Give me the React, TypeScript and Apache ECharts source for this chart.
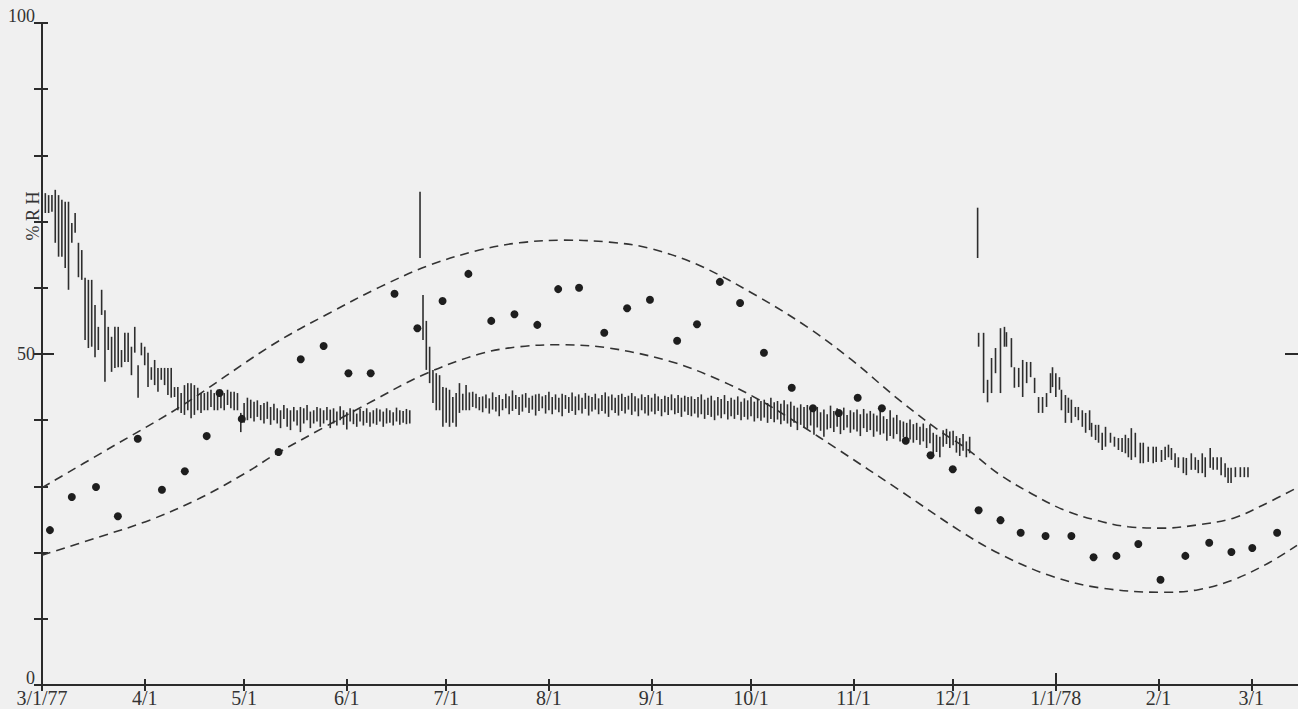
import React, { useEffect, useRef } from "react";
import * as echarts from "echarts";

// ---- axis ticks (days after 3/1/77) ----
const monthDays = [0, 31, 61, 92, 122, 153, 184, 214, 245, 275, 306, 337, 365];
const monthLabels = ["3/1/77", "4/1", "5/1", "6/1", "7/1", "8/1", "9/1", "10/1", "11/1", "12/1", "1/1/78", "2/1", "3/1"];
const yLabelValues = [0, 50, 100];

// ---- weekly outdoor points ----
const dotDays = [2.4, 9.0, 16.3, 22.9, 28.9, 36.2, 43.1, 49.7, 53.6, 60.3, 71.4, 78.1, 85.0, 92.5, 99.2, 106.4, 113.3, 120.9, 128.7, 135.6, 142.6, 149.5, 155.8, 162.1, 169.7, 176.6, 183.5, 191.7, 197.7, 204.6, 210.7, 217.9, 226.3, 232.7, 240.5, 246.2, 253.5, 260.7, 268.2, 274.9, 282.7, 289.3, 295.4, 302.9, 310.7, 317.4, 324.3, 330.9, 337.6, 345.1, 352.3, 359.0, 365.3, 372.8];
const dotRH = [23.4, 28.4, 29.9, 25.5, 37.2, 29.5, 32.3, 37.6, 44.1, 40.2, 35.2, 49.2, 51.2, 47.1, 47.1, 59.1, 53.9, 58.0, 62.1, 55.0, 56.0, 54.4, 59.8, 60.0, 53.2, 56.9, 58.2, 52.0, 54.5, 60.9, 57.7, 50.2, 44.9, 41.8, 41.1, 43.4, 41.8, 36.9, 34.7, 32.6, 26.4, 24.9, 23.0, 22.5, 22.5, 19.3, 19.5, 21.3, 15.9, 19.5, 21.5, 20.1, 20.7, 23.0];

// ---- envelope curves ----
const upperDays = [0, 20.5, 41.6, 69.6, 86.8, 101.9, 116.9, 132, 144.1, 157.6, 171.2, 183.2, 198.3, 216.4, 231.5, 244.4, 258.6, 270.6, 278.8, 288.7, 298.7, 308.6, 318.9, 327.9, 338.5, 349, 359.6, 368.6, 378.8];
const upperRH = [29.8, 35.8, 42.0, 51.4, 56.2, 60.1, 63.4, 65.7, 66.8, 67.2, 66.9, 66.0, 63.4, 58.6, 53.9, 49.1, 43.1, 38.5, 35.8, 31.9, 28.9, 26.4, 24.8, 23.9, 23.7, 24.2, 25.2, 27.2, 29.8];
const lowerDays = [0, 17.5, 32.5, 47.6, 62.7, 69.6, 84.7, 99.8, 114.8, 132, 144.1, 156.1, 171.2, 190.2, 204.3, 216.4, 228.5, 240.5, 258.6, 276.7, 288.7, 303.8, 318.9, 338.5, 349, 359.6, 370.1, 378.8];
const lowerRH = [19.6, 22.4, 24.9, 28.2, 32.4, 34.6, 38.8, 42.9, 46.8, 50.0, 51.1, 51.4, 50.9, 48.8, 46.1, 43.1, 39.4, 35.5, 29.5, 23.4, 19.9, 16.6, 14.7, 14.0, 14.4, 15.9, 18.4, 21.1];

// ---- daily range bars, segment A (from day 0) ----
const segAStart = 0;
const segALow = [70.2, 71.3, 71.3, 71.5, 66.8, 64.7, 64.7, 63.0, 59.7, 66.8, 68.3, 61.6, 61.2, 52.1, 50.9, 51.1, 49.5, 50.6, 55.9, 45.8, 50.6, 47.3, 47.9, 48.0, 48.0, 48.8, 48.8, 46.8, 50.2, 43.4, 49.8, 48.3, 45.0, 46.1, 45.3, 44.3, 46.1, 45.3, 43.8, 43.4, 43.5, 41.5, 41.1, 40.8, 41.5, 40.3, 40.8, 41.5, 41.1, 41.5, 41.5, 42.0, 41.5, 41.5, 41.8, 41.5, 42.3, 41.8, 41.5, 41.5, 38.2, 39.6, 40.0, 40.3, 39.8, 40.5, 40.0, 39.5, 40.2, 39.3, 40.0, 39.5, 38.8, 40.2, 39.0, 38.5, 39.8, 39.2, 38.2, 39.5, 40.0, 38.8, 39.5, 39.8, 39.0, 39.5, 40.0, 38.8, 39.5, 39.2, 40.0, 39.3, 38.6, 39.8, 39.4, 39.0, 39.8, 39.2, 39.6, 39.0, 39.5, 39.3, 39.8, 39.0, 39.5, 39.6, 39.2, 39.8, 39.3, 39.6, 39.4, 39.5];
const segAHigh = [75.2, 74.3, 74.0, 74.0, 74.8, 74.0, 73.3, 73.0, 73.0, 69.8, 71.3, 66.8, 65.7, 61.5, 61.2, 61.2, 57.4, 54.1, 59.7, 56.6, 54.1, 52.6, 54.1, 54.1, 50.6, 53.2, 53.2, 51.1, 54.1, 48.3, 51.7, 51.1, 50.2, 48.0, 49.1, 47.9, 47.9, 47.9, 47.9, 47.9, 45.0, 45.0, 44.1, 45.3, 45.6, 45.6, 45.3, 44.9, 44.1, 44.1, 44.3, 44.6, 44.1, 44.6, 44.6, 44.1, 44.6, 44.3, 44.3, 44.1, 41.1, 42.6, 43.4, 43.1, 42.8, 43.0, 42.3, 42.6, 42.8, 42.0, 42.5, 41.8, 41.5, 42.3, 41.8, 41.5, 42.0, 41.5, 42.0, 41.8, 42.3, 41.3, 41.5, 42.0, 41.8, 41.5, 42.0, 41.6, 41.8, 41.3, 42.1, 41.5, 41.2, 41.8, 41.6, 41.0, 41.7, 41.4, 41.8, 41.2, 41.5, 41.8, 41.6, 41.3, 41.8, 41.5, 41.2, 41.9, 41.5, 41.4, 41.7, 41.5];

// ---- segment B (from day 115) ----
const segBStart = 115;
const segBLow = [52.1, 47.6, 45.6, 42.6, 41.5, 41.5, 39.0, 39.6, 39.0, 39.6, 39.0, 41.1, 41.5, 41.5, 41.5, 42.0, 41.8, 41.5,
  41.2, 41.8, 41.0, 41.6, 41.3, 40.6, 41.5, 41.8, 40.9, 41.4, 41.7, 40.8, 41.3, 41.9, 41.1, 41.6, 40.7, 41.4, 41.8, 41.0, 41.5, 40.9, 41.6, 41.2, 40.6, 41.7, 41.1, 41.4, 40.8, 41.5, 41.0, 41.7, 40.7, 41.3, 41.6, 40.9, 41.4, 41.0, 40.5, 41.5, 41.1, 40.7, 41.4, 41.0, 41.6, 40.8, 41.3, 40.6, 41.5, 41.0, 40.7, 41.3, 40.9, 41.4, 40.6, 41.2, 40.8, 41.5, 40.9, 41.1, 40.5, 41.3, 40.8,
  40.6, 41.0, 40.4, 40.9, 40.2, 40.8, 40.5, 40.0, 40.7, 40.3, 40.9, 40.1, 40.6, 40.2, 40.8, 40.0, 40.5, 40.1, 40.6, 39.8, 40.3, 39.9, 40.4, 39.6, 40.2, 39.7, 40.1, 39.4, 39.9, 39.5, 39.0, 39.6, 38.5, 39.3, 38.9,
  38.7, 39.2, 37.8, 38.9, 38.4, 37.5, 38.6, 38.8, 38.2, 39.0, 37.9, 38.5, 38.9, 38.1, 38.6, 38.3, 37.6, 38.8, 38.2, 38.5,
  37.5, 38.3, 37.8, 38.0, 36.9, 37.6, 37.2, 37.9, 36.8, 37.4, 36.6, 37.1,
  36.6, 37.0, 36.3, 36.8, 35.8, 36.5, 34.6, 35.2, 34.4, 36.0, 36.4, 35.8, 36.2, 35.1, 34.6, 35.4, 34.4, 35.0];
const segBHigh = [58.9, 55.0, 51.1, 47.6, 47.1, 46.8, 45.0, 44.9, 44.6, 43.5, 44.1, 45.6, 44.0, 45.3, 44.2, 44.3, 44.0, 43.5,
  43.6, 43.9, 43.3, 44.2, 43.5, 43.8, 43.2, 44.0, 43.6, 44.5, 43.8, 43.5, 43.9, 44.1, 43.4, 43.7, 43.9, 44.0, 43.6, 43.8, 44.3, 43.5, 43.9, 43.4, 44.0, 43.8, 43.5, 44.2, 43.6, 43.9, 43.4, 44.1, 43.7, 43.5, 44.0, 43.3, 43.8, 44.2, 43.6, 43.9, 43.4, 43.8, 44.0, 43.5, 43.7, 44.1, 43.6, 43.3, 43.9, 43.5, 43.8, 43.4, 44.0, 43.6, 43.2, 43.7, 43.5, 43.9, 43.3, 43.8, 43.4, 43.7, 43.5,
  43.6, 43.2, 43.5, 43.9, 43.1, 43.4, 43.7, 43.0, 43.5, 43.2, 43.8, 42.9, 43.4, 43.1, 43.6, 42.8, 43.3, 43.0, 43.5, 42.8, 43.2, 42.9, 43.1, 42.6, 43.4, 42.7, 42.9, 42.5, 43.0, 42.4, 42.8, 42.2, 41.9, 42.4, 42.0,
  42.3, 41.8, 41.5, 42.0, 41.2, 41.6, 40.9, 42.2, 41.4, 41.8, 41.1, 41.9, 40.8, 41.5, 41.2, 41.6, 40.9, 41.7, 41.0, 41.4,
  41.0, 40.7, 41.4, 40.6, 40.2, 41.5, 40.4, 40.8, 40.0, 39.8, 39.6, 40.1,
  39.4, 39.6, 39.0, 39.5, 38.8, 39.3, 38.1, 37.8, 37.5, 38.5, 38.7, 38.3, 38.4, 37.6, 37.3, 37.9, 36.8, 37.5];

// ---- segment C ----
const segCDays = [282.7, 284.2, 285.4, 286.6, 287.8, 289.3, 290.5, 291.1, 292.6, 293.5, 294.8, 296.0, 297.2, 298.4, 299.6, 300.8, 302.0, 303.2, 304.4, 305.0, 306.0, 307.1, 307.7, 308.9, 309.8, 310.7, 311.9, 312.8, 314.0, 315.0, 316.2, 316.8, 318.0, 318.9, 320.0, 321.0, 322.5, 323.7, 324.9, 326.0, 327.0, 327.9, 328.8, 330.0, 331.5, 332.4, 333.9, 335.4, 336.3, 337.9, 339.0, 340.0, 340.9, 342.0, 343.0, 344.5, 345.4, 346.9, 348.1, 349.0, 350.2, 351.1, 352.6, 353.5, 354.7, 355.9, 357.1, 358.0, 358.9, 360.2, 361.7, 362.9, 364.0];
const segCLow = [51.1, 44.1, 42.7, 44.1, 47.1, 44.1, 51.1, 51.1, 48.0, 44.9, 45.0, 43.5, 45.6, 46.5, 44.1, 41.1, 41.1, 42.0, 44.1, 45.0, 43.5, 44.6, 41.5, 39.6, 41.1, 39.6, 40.5, 40.0, 39.0, 38.1, 38.5, 37.5, 37.0, 36.6, 35.5, 36.0, 36.6, 36.0, 35.5, 35.2, 35.0, 34.4, 34.0, 34.4, 33.5, 33.5, 33.7, 33.5, 33.7, 33.7, 34.0, 34.4, 34.0, 32.9, 32.8, 32.0, 31.7, 32.5, 32.5, 32.0, 32.0, 31.4, 32.8, 32.5, 32.5, 31.7, 31.4, 30.5, 30.5, 31.4, 31.4, 31.4, 31.4];
const segCHigh = [53.2, 53.2, 46.1, 49.4, 50.9, 53.9, 54.1, 53.3, 52.4, 48.0, 47.9, 49.1, 48.8, 48.8, 46.4, 43.5, 43.5, 44.1, 47.1, 48.0, 47.1, 46.5, 44.6, 43.8, 43.4, 43.1, 42.0, 42.0, 41.5, 41.1, 41.5, 39.6, 39.3, 39.3, 38.1, 39.0, 38.1, 37.5, 37.3, 37.3, 37.8, 37.3, 38.8, 38.1, 36.6, 36.6, 36.0, 36.0, 36.0, 35.5, 36.0, 36.3, 35.8, 35.0, 34.4, 34.4, 34.3, 35.0, 34.4, 34.0, 35.0, 34.4, 35.8, 34.4, 34.4, 34.4, 33.5, 32.8, 32.8, 32.9, 32.9, 32.9, 32.9];

// ---- isolated single readings ----
const spikeDays = [114.1, 282.4];
const spikeLow = [64.5, 64.5];
const spikeHigh = [74.5, 72.1];

const X_MAX = 379.1;
const INK = "#2b2b2b";
const SERIF = "'Liberation Serif', 'DejaVu Serif', serif";

function buildBars() {
  const out: number[][] = [];
  const nA = Math.min(segALow.length, segAHigh.length);
  for (let i = 0; i < nA; i++) out.push([segAStart + i, segALow[i], segAHigh[i]]);
  const nB = Math.min(segBLow.length, segBHigh.length);
  for (let i = 0; i < nB; i++) out.push([segBStart + i, segBLow[i], segBHigh[i]]);
  const nC = Math.min(segCDays.length, segCLow.length, segCHigh.length);
  for (let i = 0; i < nC; i++) out.push([segCDays[i], segCLow[i], segCHigh[i]]);
  for (let i = 0; i < spikeDays.length; i++) out.push([spikeDays[i], spikeLow[i], spikeHigh[i]]);
  return out;
}

export default function App() {
  const ref = useRef<HTMLDivElement>(null);
  useEffect(() => {
    if (!ref.current) return;
    const chart = echarts.init(ref.current, null, { renderer: "svg" });
    const labelMap: Record<number, string> = {};
    monthDays.forEach((d, i) => (labelMap[d] = monthLabels[i]));
    const xBase = { type: "value", min: 0, max: X_MAX, splitLine: { show: false } };
    const yBase = { type: "value", min: 0, max: 100, interval: 10, splitLine: { show: false } };
    const option: any = {
      animation: false,
      backgroundColor: "#f0f0f0",
      grid: { left: 42, right: -2, top: 23, bottom: 24 },
      xAxis: [
        {
          ...xBase,
          position: "bottom",
          axisLine: { lineStyle: { color: INK, width: 2 } },
          axisTick: { inside: true, length: 6, customValues: monthDays, lineStyle: { color: INK, width: 2 } },
          axisLabel: {
            customValues: monthDays,
            formatter: (v: number) => labelMap[v] ?? "",
            fontFamily: SERIF,
            fontSize: 20,
            color: "#333",
            margin: 3,
          },
        },
        {
          ...xBase,
          position: "top",
          axisLine: { lineStyle: { color: INK, width: 2 } },
          axisTick: { inside: true, length: 6, customValues: monthDays, lineStyle: { color: INK, width: 2 } },
          axisLabel: { show: false },
        },
        {
          ...xBase,
          position: "bottom",
          axisLine: { show: false },
          axisTick: { inside: true, length: 12, customValues: [306], lineStyle: { color: INK, width: 2 } },
          axisLabel: { show: false },
        },
      ],
      yAxis: [
        {
          ...yBase,
          position: "left",
          axisLine: { show: true, lineStyle: { color: INK, width: 2 } },
          axisTick: { show: true, inside: true, length: 6, lineStyle: { color: INK, width: 2 } },
          axisLabel: {
            formatter: (v: number) =>
              yLabelValues.indexOf(v) < 0 ? "" : v === 50 ? "{m|50}" : `{e|${v}}`,
            rich: {
              m: { fontFamily: SERIF, fontSize: 18, color: "#333" },
              e: { fontFamily: SERIF, fontSize: 18, color: "#333", padding: [0, 0, 14, 0] },
            },
            fontFamily: SERIF,
            fontSize: 18,
            color: "#333",
            margin: 7,
          },
        },
        {
          ...yBase,
          position: "right",
          axisLine: { show: false },
          axisTick: { show: true, inside: true, length: 8, lineStyle: { color: INK, width: 2 } },
          axisLabel: { show: false },
        },
        {
          ...yBase,
          position: "left",
          axisLine: { show: false },
          axisTick: { show: true, inside: true, length: 12, customValues: [50], lineStyle: { color: INK, width: 2 } },
          axisLabel: { show: false },
        },
        {
          ...yBase,
          position: "right",
          axisLine: { show: false },
          axisTick: { show: true, inside: true, length: 13, customValues: [50], lineStyle: { color: INK, width: 2 } },
          axisLabel: { show: false },
        },
      ],
      graphic: [
        {
          type: "text",
          x: 33,
          y: 216,
          rotation: Math.PI / 2,
          style: {
            text: "% R H",
            font: `18px ${SERIF}`,
            fill: "#333",
            textAlign: "center",
            textVerticalAlign: "middle",
            align: "center",
            verticalAlign: "middle",
          },
        },
      ],
      series: [
        {
          type: "line",
          data: upperDays.map((d, i) => [d, upperRH[i]]),
          smooth: 0.35,
          showSymbol: false,
          silent: true,
          lineStyle: { color: "#333", width: 1.6, type: [9, 6] },
          z: 1,
        },
        {
          type: "line",
          data: lowerDays.map((d, i) => [d, lowerRH[i]]),
          smooth: 0.35,
          showSymbol: false,
          silent: true,
          lineStyle: { color: "#333", width: 1.6, type: [9, 6] },
          z: 1,
        },
        {
          type: "custom",
          data: buildBars(),
          encode: { x: 0, y: [1, 2] },
          renderItem: (_p: any, api: any) => {
            const d = api.value(0);
            const a = api.coord([d, api.value(1)]);
            const b = api.coord([d, api.value(2)]);
            return {
              type: "line",
              shape: { x1: a[0], y1: a[1], x2: b[0], y2: b[1] },
              style: { stroke: "#2e2e2e", lineWidth: 1.6 },
            };
          },
          z: 2,
        },
        {
          type: "scatter",
          data: dotDays.map((d, i) => [d, dotRH[i]]),
          symbolSize: 8,
          itemStyle: { color: "#1e1e1e", opacity: 1 },
          z: 3,
        },
      ],
    };
    chart.setOption(option);
    return () => chart.dispose();
  }, []);
  return <div ref={ref} style={{ position: "fixed", left: 0, top: 0, width: 1298, height: 709 }} />;
}
